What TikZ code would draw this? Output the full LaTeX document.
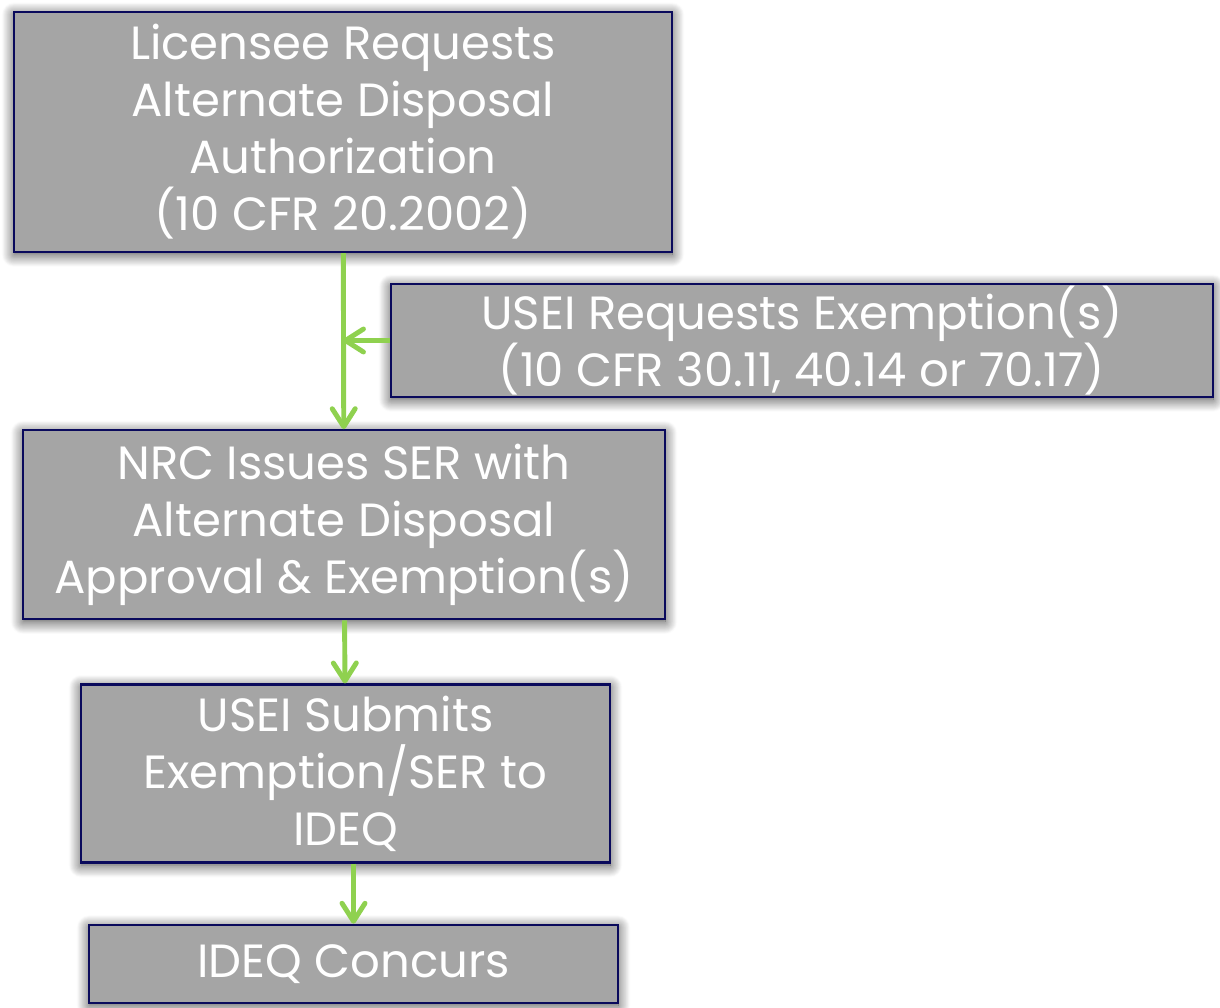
\documentclass[tikz,border=0pt]{standalone}
\usepackage{fontspec}
\setmainfont{Poppins}
\usetikzlibrary{arrows.meta,positioning,shadows.blur}

\definecolor{boxgray}{HTML}{A5A5A5}
\definecolor{boxnavy}{HTML}{0A0A5C}
\definecolor{flowgreen}{HTML}{8FD14F}

\begin{document}
\begin{tikzpicture}[node distance=1.3cm,
    stepbox/.style={draw=boxnavy,fill=boxgray,line width=1.3pt,text=white,align=center,inner sep=0pt,
      font=\fontsize{26.5}{32.4}\selectfont,
      blur shadow={shadow xshift=0pt,shadow yshift=-1.5pt,shadow blur radius=7pt,shadow blur steps=14,shadow opacity=75}},
    flow/.style={draw=flowgreen,line width=2.8pt,-{Straight Barb[round,length=3.6mm,width=4.6mm]}}]

  \useasboundingbox (0,0) rectangle (24.4,-20.14);

  \node[stepbox,minimum width=13.16cm,minimum height=4.8cm] (lic) at (6.86,-2.64)
    {Licensee Requests\\Alternate Disposal\\Authorization\\(10 CFR 20.2002)};
  \node[stepbox,minimum width=16.44cm,minimum height=2.26cm] (usei) at (16.04,-6.81)
    {USEI Requests Exemption(s)\\(10 CFR 30.11, 40.14 or 70.17)};
  \node[stepbox,minimum width=12.84cm,minimum height=3.78cm] (nrc) [below=3.52cm of lic,xshift=0.02cm]
    {NRC Issues SER with\\Alternate Disposal\\Approval \& Exemption(s)};
  \node[stepbox,minimum width=10.58cm,minimum height=3.56cm] (submit) [below=1.26cm of nrc,xshift=0.03cm]
    {USEI Submits\\Exemption/SER to\\IDEQ};
  \node[stepbox,minimum width=10.58cm,minimum height=1.56cm] (concur) [below=1.2cm of submit,xshift=0.16cm]
    {IDEQ Concurs};

  \draw[flow] (lic) -- (nrc);
  \draw[flow] (usei.west) -- (usei.west -| lic.south);
  \draw[flow] (nrc) -- (submit);
  \draw[flow] (concur.north |- submit.south) -- (concur.north);

\end{tikzpicture}
\end{document}
